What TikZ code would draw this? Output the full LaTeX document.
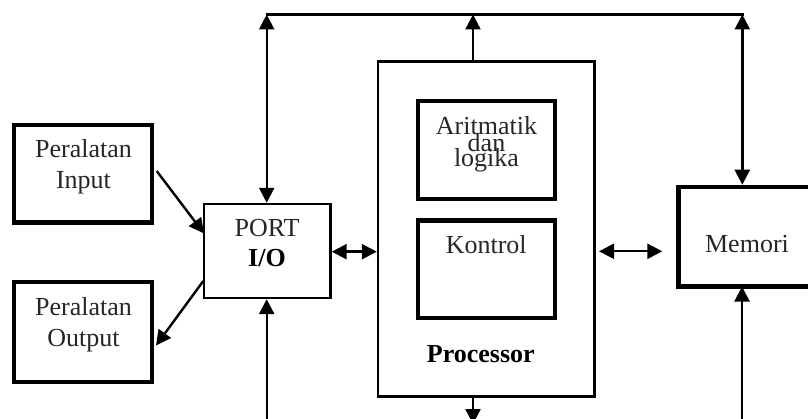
\documentclass[tikz,border=0pt]{standalone}
\usepackage{fontspec}
\setmainfont{Liberation Serif}
\usetikzlibrary{arrows.meta}
\begin{document}
\begin{tikzpicture}[x=1pt,y=-1pt,
  thinbox/.style={draw=black,line width=2.4pt,inner sep=0pt,minimum width=#1},
  thickbox/.style={draw=black,line width=4.5pt,inner sep=0pt},
  lbl/.style={anchor=base,inner sep=0pt,text=black!85,font=\fontsize{26}{30}\selectfont},
  blbl/.style={anchor=base,inner sep=0pt,text=black,font=\fontsize{26}{30}\selectfont\bfseries},
  conn/.style={line width=2.4pt,draw=black},
  tip/.tip={Triangle[length=15pt,width=15pt]}
]
\useasboundingbox (0,0) rectangle (808,419);
\clip (0,0) rectangle (808,419);

% boxes
\node[thickbox,minimum width=138pt,minimum height=97.5pt] (inp) at (83,173.7) {};
\node[thickbox,minimum width=138pt,minimum height=99.5pt] (outp) at (83,332) {};
\node[thinbox=126.5pt,minimum height=94pt] (port) at (267.25,251) {};
\node[thinbox=216.5pt,minimum height=334.8pt] (proc) at (486.25,229) {};
\node[thickbox,minimum width=137pt,minimum height=98pt] (alu) at (486.5,150) {};
\node[thickbox,minimum width=137pt,minimum height=97.5pt] (ktl) at (486.5,269.25) {};
\node[thickbox,minimum width=160pt,minimum height=99.3pt] (mem) at (758.7,236.65) {};

% texts
\node[lbl] (t1) at (83.5,158) {Peralatan};
\node[lbl] (t2) at (83.5,189) {Input};
\node[lbl] (t3) at (83.5,316) {Peralatan};
\node[lbl] (t4) at (83.5,346) {Output};
\node[lbl] (t5) at (267,236.5) {PORT};
\node[blbl] (t6) at (267,267) {I/O};
\node[lbl] (t7) at (486.5,135) {Aritmatik};
\node[lbl] (t8) at (486.5,152) {dan};
\node[lbl] (t9) at (486.5,167) {logika};
\node[lbl] (t10) at (486.2,254) {Kontrol};
\node[blbl] (t11) at (480.8,362.7) {Processor};
\node[lbl] (t12) at (747,253) {Memori};

% connector end points
\coordinate (busL) at (266.7,14.5);
\coordinate (busR) at (742.3,14.5);
\coordinate (busP) at (473,14.5);
\coordinate (botP) at (473,424);
\coordinate (botPort) at (266.7,425);
\coordinate (botMem) at (742,425);
\coordinate (inS) at (156.7,171);
\coordinate (inT) at (204,233.5);
\coordinate (outS) at (203.3,281);
\coordinate (outT) at (156,345.5);
\coordinate (pmL) at (599,251.3);
\coordinate (pmR) at (662.3,251.3);

\draw[conn] ([xshift=-1.2pt]busL) -- ([xshift=1.2pt]busR);
\draw[conn,{tip}-{tip}] (busL) -- (busL |- port.north);
\draw[conn,{tip}-{tip}] (busR) -- (busR |- mem.north);
\draw[conn,-{tip}] (proc.north -| busP) -- (busP);
\draw[conn,-{tip}] (proc.south -| botP) -- (botP);
\draw[conn,-{tip}] (botPort) -- (botPort |- port.south);
\draw[conn,-{tip}] (botMem) -- ([yshift=2pt]botMem |- mem.south);
\draw[conn,{tip}-{tip}] (port.east |- 0,251.7) -- (proc.west |- 0,251.7);
\draw[conn,{tip}-{tip}] (pmL) -- (pmR);
\draw[conn,-{tip}] (inS) -- (inT);
\draw[conn,-{tip}] (outS) -- (outT);
\end{tikzpicture}
\end{document}
